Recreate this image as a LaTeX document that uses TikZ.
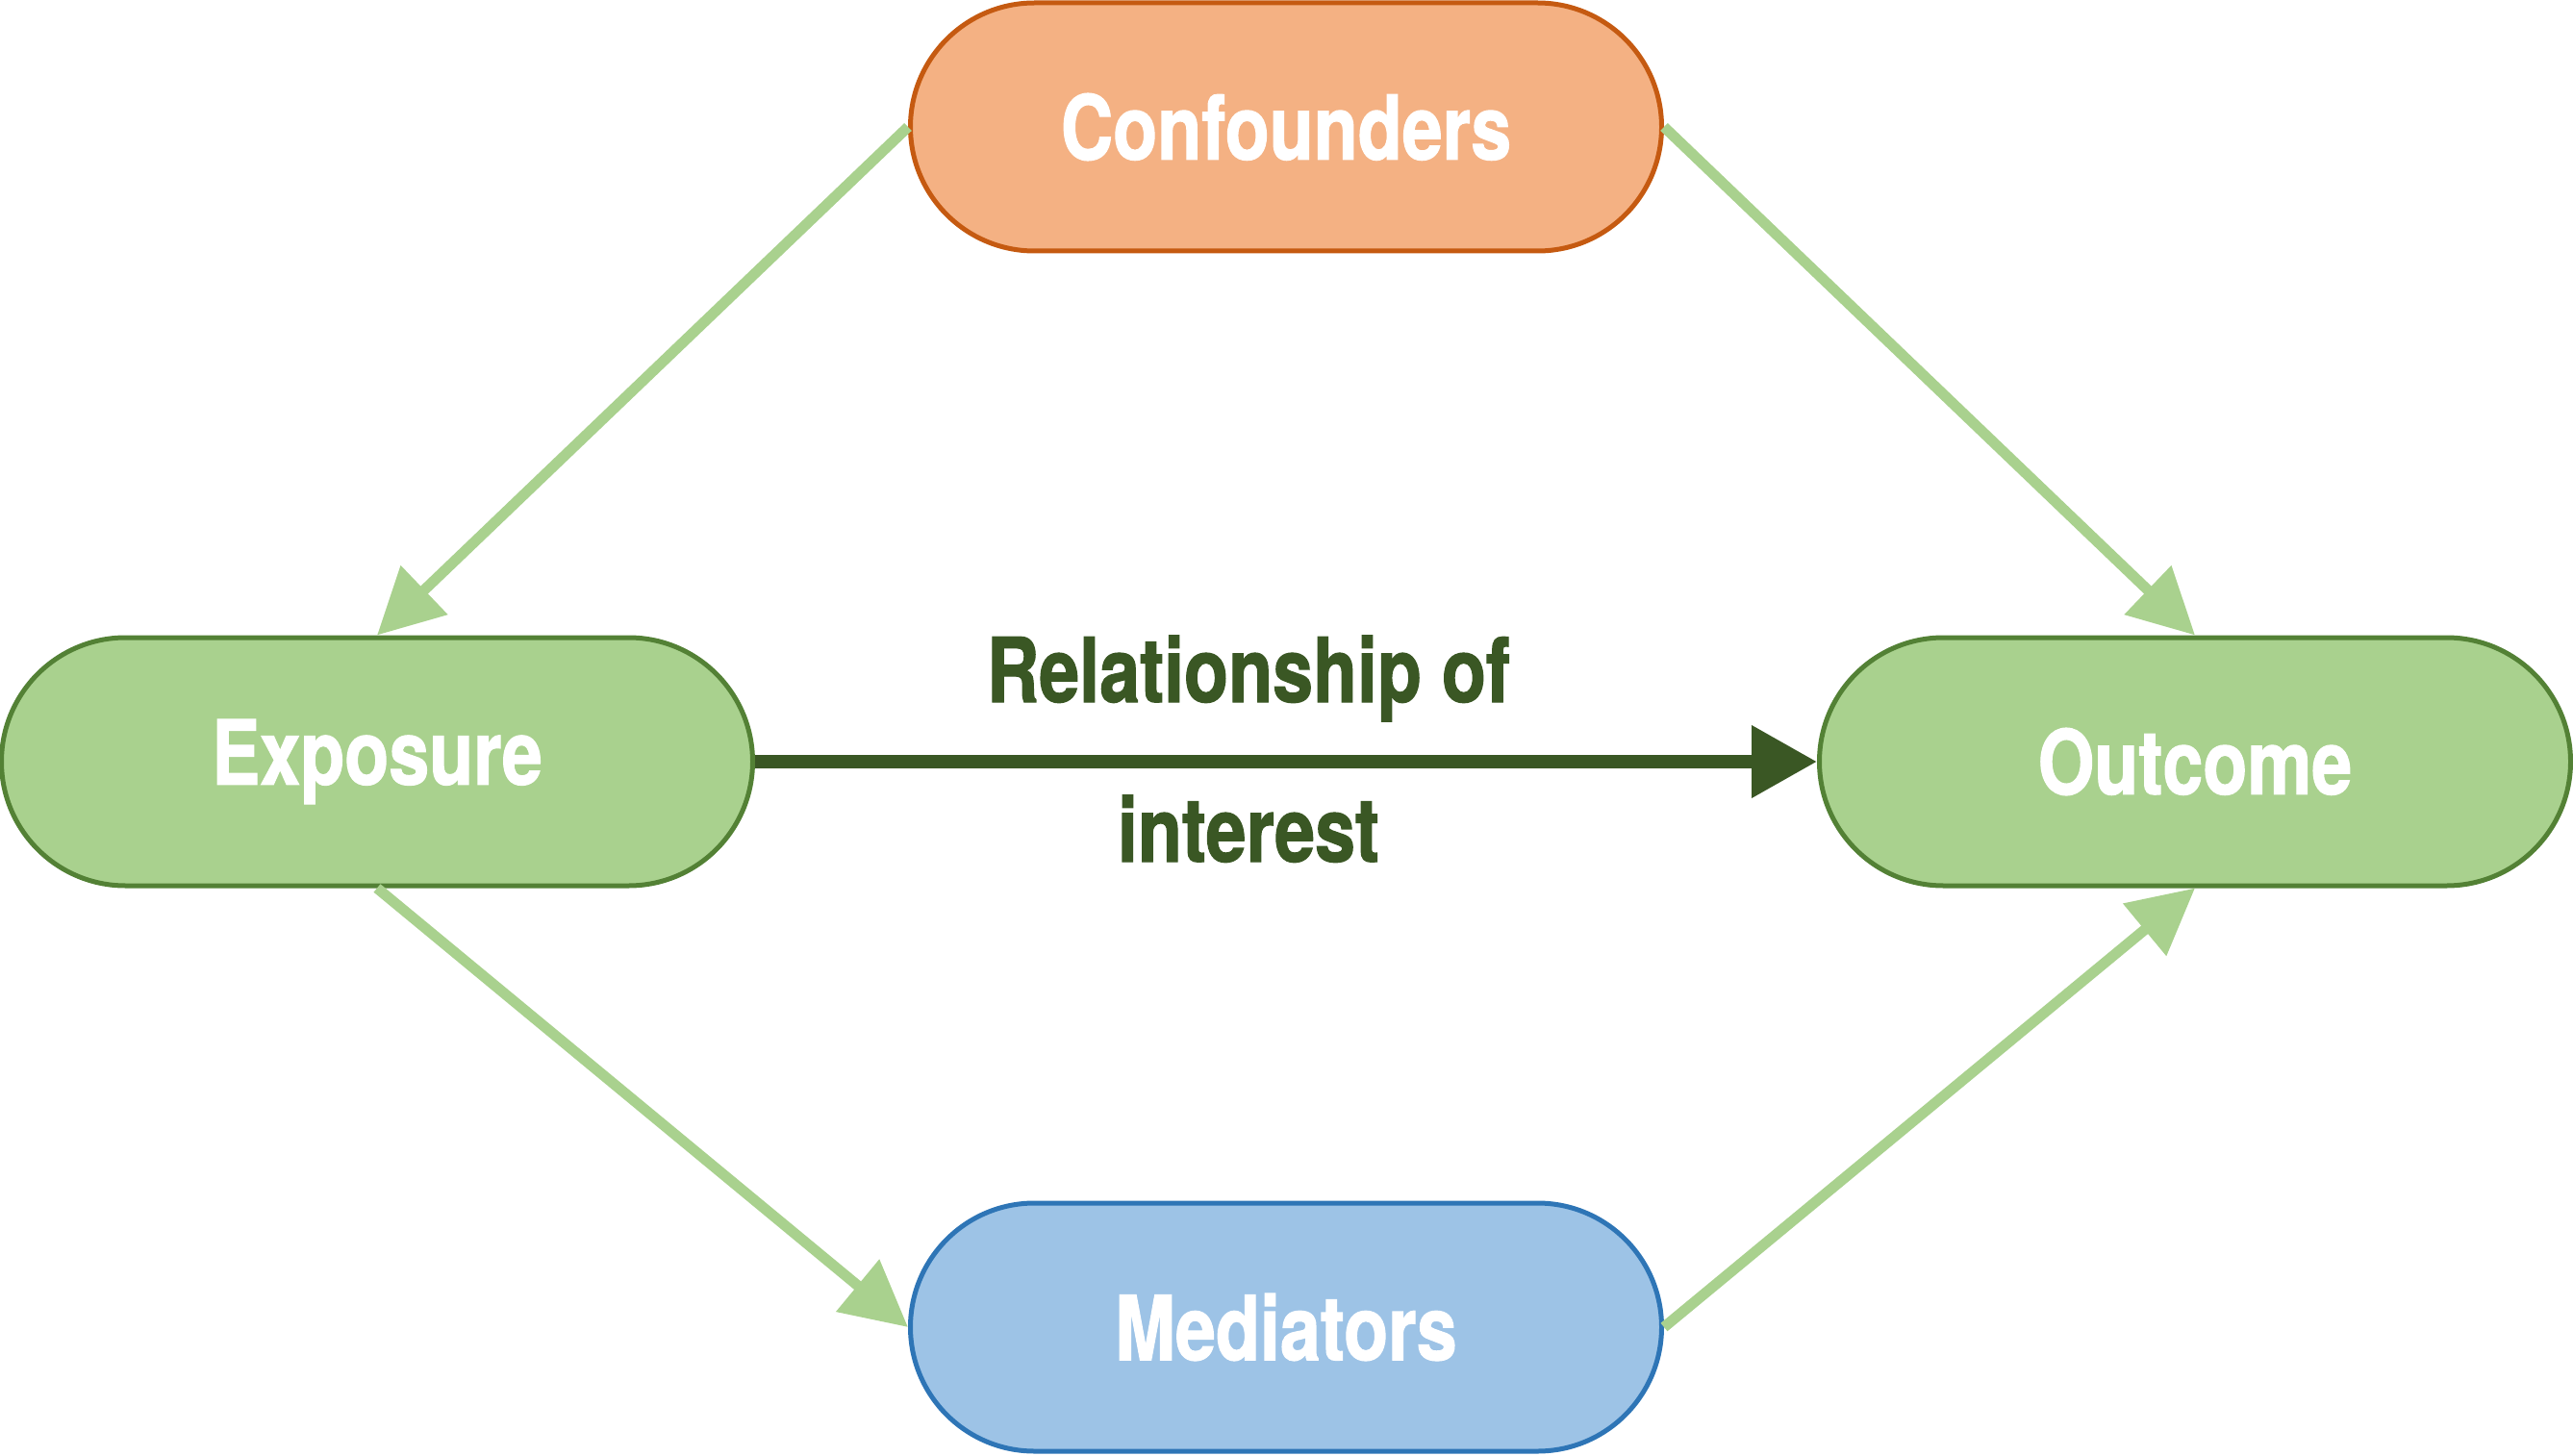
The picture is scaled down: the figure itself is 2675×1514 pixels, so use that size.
\documentclass[tikz,border=0pt]{standalone}
\usepackage{fontspec}
\setmainfont{TeX Gyre Heros}[FakeStretch=0.81, BoldFeatures={FakeBold=1.2}]
\usetikzlibrary{arrows.meta}
\definecolor{orfill}{HTML}{F4B183}
\definecolor{ordraw}{HTML}{C55A11}
\definecolor{grfill}{HTML}{A9D18E}
\definecolor{grdraw}{HTML}{538135}
\definecolor{blfill}{HTML}{9DC3E6}
\definecolor{bldraw}{HTML}{2E75B6}
\definecolor{darkgr}{HTML}{3A5724}
\tikzset{
  pill/.style={rectangle, rounded corners=129pt, minimum width=781pt, minimum height=258pt,
    line width=5pt, text=white, font=\fontsize{93}{110}\selectfont\bfseries, inner sep=0pt},
  lightarrow/.style={draw=grfill, line width=11pt, -{Triangle[length=68pt,width=68pt]}},
  mainarrow/.style={draw=darkgr, line width=14pt, -{Triangle[length=68pt,width=72pt]}},
  lbl/.style={text=darkgr, font=\fontsize{93}{110}\selectfont\bfseries, inner sep=0pt}
}
\begin{document}
\begin{tikzpicture}[x=1pt,y=-1pt]
\useasboundingbox (0,0) rectangle (2675,1514);
\node[pill, fill=orfill, draw=ordraw] (conf) at (1337,132) {Confounders};
\node[pill, fill=grfill, draw=grdraw] (exp) at (392,792) {Exposure};
\node[pill, fill=grfill, draw=grdraw] (out) at (2282,792) {Outcome};
\node[pill, fill=blfill, draw=bldraw] (med) at (1337,1380) {Mediators};
\draw[lightarrow] (conf.west) -- (exp.north);
\draw[lightarrow] (conf.east) -- (out.north);
\draw[lightarrow] (exp.south) -- (med.west);
\draw[lightarrow] (med.east) -- (out.south);
\draw[mainarrow] (exp.east) -- (out.west);
\node[lbl, anchor=base] (rel1) at (1298,730) {Relationship of};
\node[lbl, anchor=base] (rel2) at (1298,896) {interest};
\end{tikzpicture}
\end{document}
